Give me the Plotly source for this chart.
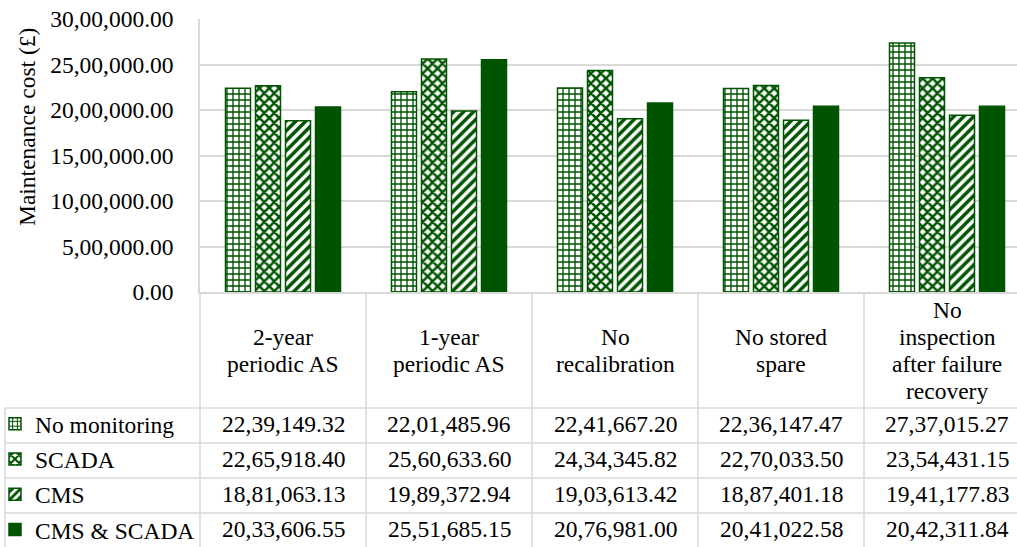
import plotly.graph_objects as go

# Scenarios (x categories); "<br>" marks the line breaks of the header cells
scenarios = [
    "2-year<br>periodic AS",
    "1-year<br>periodic AS",
    "No<br>recalibration",
    "No stored<br>spare",
    "No<br>inspection<br>after failure<br>recovery",
]

# Maintenance cost (GBP) per monitoring strategy
no_monitoring = [2239149.32, 2201485.96, 2241667.20, 2236147.47, 2737015.27]
scada = [2265918.40, 2560633.60, 2434345.82, 2270033.50, 2354431.15]
cms = [1881063.13, 1989372.94, 1903613.42, 1887401.18, 1941177.83]
cms_scada = [2033606.55, 2551685.15, 2076981.00, 2041022.58, 2042311.84]

series_names = ["No monitoring", "SCADA", "CMS", "CMS & SCADA"]
series_values = [no_monitoring, scada, cms, cms_scada]

y_tick_values = [0, 500000, 1000000, 1500000, 2000000, 2500000, 3000000]


def indian_format(v):
    """Format a number with Indian digit grouping and two decimals."""
    s = f"{abs(v):.2f}"
    whole, frac = s.split(".")
    if len(whole) > 3:
        head, tail = whole[:-3], whole[-3:]
        groups = []
        while len(head) > 2:
            groups.insert(0, head[-2:])
            head = head[:-2]
        if head:
            groups.insert(0, head)
        whole = ",".join(groups + [tail])
    return ("-" if v < 0 else "") + whole + "." + frac


y_tick_labels = [indian_format(v) for v in y_tick_values]

# ---- page geometry (pixels) ----
W, H = 1017, 547
PLOT_L, PLOT_T, PLOT_B = 200, 19, 292
PLOT_W = W - PLOT_L
PLOT_H = PLOT_B - PLOT_T
COL_W = 166  # width of one category column
HEADER_MID = 350
LINE_STEP = 27
ROW_LINES = [408, 443, 478, 513]
ROW_H = 35
TABLE_LEFT = 5
TABLE_BOTTOM = 547

GREEN = "#005400"
GRID = "#d9d9d9"
FONT = "Liberation Serif"
FS = 23.5

x_range = [-0.5, -0.5 + PLOT_W / COL_W]


def px_x(x):
    return (x - PLOT_L) / PLOT_W


def px_y(y):
    return (PLOT_B - y) / PLOT_H


patterns = [
    dict(shape="+", size=6, solidity=0.4),
    dict(shape="x", size=7, solidity=0.6),
    dict(shape="/", size=7, solidity=0.5),
    None,
]

fig = go.Figure()
for i, (name, vals) in enumerate(zip(series_names, series_values)):
    pat = patterns[i]
    if pat is None:
        marker = dict(color=GREEN, line=dict(color=GREEN, width=1.5))
    else:
        marker = dict(
            color="white",
            line=dict(color=GREEN, width=1.5),
            pattern=dict(fgcolor=GREEN, bgcolor="white", fgopacity=1, **pat),
        )
    fig.add_trace(
        go.Bar(
            x=scenarios,
            y=vals,
            name=name,
            marker=marker,
            legendgroup=name,
        )
    )

shapes = []
annotations = []

# table: vertical lines below the plot
shapes.append(dict(type="line", xref="paper", yref="paper",
                   x0=0, x1=0, y0=0, y1=px_y(TABLE_BOTTOM),
                   line=dict(color=GRID, width=1.5)))
shapes.append(dict(type="line", xref="paper", yref="paper",
                   x0=px_x(TABLE_LEFT), x1=px_x(TABLE_LEFT),
                   y0=px_y(ROW_LINES[0]), y1=px_y(TABLE_BOTTOM),
                   line=dict(color=GRID, width=1.5)))
for k in range(len(scenarios)):
    shapes.append(dict(type="line", xref="x", yref="paper",
                       x0=k + 0.5, x1=k + 0.5, y0=0, y1=px_y(TABLE_BOTTOM),
                       line=dict(color=GRID, width=1.5)))
# table: horizontal lines
for yl in ROW_LINES:
    shapes.append(dict(type="line", xref="paper", yref="paper",
                       x0=px_x(TABLE_LEFT), x1=1, y0=px_y(yl), y1=px_y(yl),
                       line=dict(color=GRID, width=1.5)))

# header cells (category names)
for k, cat in enumerate(scenarios):
    lines = cat.split("<br>")
    n = len(lines)
    for j, ln in enumerate(lines):
        ypix = HEADER_MID + (j - (n - 1) / 2) * LINE_STEP
        annotations.append(dict(
            x=k, y=px_y(ypix), xref="x", yref="paper", text=ln,
            showarrow=False, xanchor="center", yanchor="middle",
            font=dict(family=FONT, size=FS, color="black")))

# data cells
for r, vals in enumerate(series_values):
    ypix = ROW_LINES[r] + ROW_H / 2 - 1.5
    for k, v in enumerate(vals):
        annotations.append(dict(
            x=k, y=px_y(ypix), xref="x", yref="paper", text=indian_format(v),
            showarrow=False, xanchor="center", yanchor="middle",
            font=dict(family=FONT, size=FS, color="black")))

# y-axis title
annotations.append(dict(
    x=px_x(27), y=px_y(127), xref="paper", yref="paper",
    text="Maintenance cost (£)", textangle=-90, showarrow=False,
    xanchor="center", yanchor="middle",
    font=dict(family=FONT, size=FS, color="black")))

fig.update_layout(
    width=W, height=H,
    margin=dict(l=PLOT_L, r=0, t=PLOT_T, b=H - PLOT_B, autoexpand=False),
    paper_bgcolor="white", plot_bgcolor="white",
    barmode="group", bargap=0.277, bargroupgap=0.167,
    font=dict(family=FONT, size=FS, color="black"),
    showlegend=True,
    legend=dict(
        x=px_x(-5), y=px_y(ROW_LINES[0] - 6), xref="paper", yref="paper",
        xanchor="left", yanchor="top", traceorder="grouped",
        tracegroupgap=1.7, bgcolor="rgba(0,0,0,0)", borderwidth=0,
        font=dict(family=FONT, size=FS, color="black"),
    ),
    shapes=shapes,
    annotations=annotations,
)
fig.update_xaxes(
    range=x_range, showticklabels=False, showgrid=False,
    showline=True, linecolor=GRID, linewidth=1.5, ticks="",
    fixedrange=True,
)
fig.update_yaxes(
    range=[0, 3000000], tickvals=y_tick_values, ticktext=y_tick_labels,
    showgrid=True, gridcolor=GRID, gridwidth=1.5,
    showline=True, linecolor=GRID, linewidth=1.5, ticks="",
    ticklabelstandoff=20, zeroline=False,
    tickfont=dict(family=FONT, size=FS, color="black"),
)

fig.write_html("out.html")
